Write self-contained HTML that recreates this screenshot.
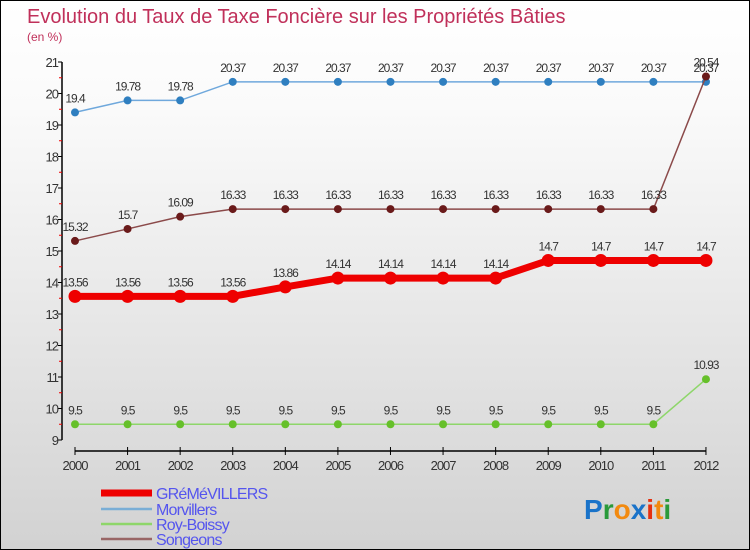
<!DOCTYPE html>
<html><head><meta charset="utf-8"><style>
body{margin:0}
#c{width:748px;height:548px;border:1px solid #000;position:relative;background:linear-gradient(#fff,#fafafa 20%,#d2d2d2);font-family:"Liberation Sans",sans-serif;overflow:hidden}
</style></head><body>
<div id="c">
<svg id="s" width="748" height="548" style="position:absolute;left:0;top:0">
<text x="26" y="22" font-size="20" fill="#c0305a">Evolution du Taux de Taxe Foncière sur les Propriétés Bâties</text>
<text x="26" y="40" font-size="12" fill="#c0305a">(en %)</text>
<g id="axes"></g><g id="series"></g><g id="legend"></g>
<text x="583" y="518" font-size="28" font-weight="bold"><tspan fill="#1a73c9">P</tspan><tspan fill="#2a9a3a">r</tspan><tspan fill="#f28a10">o</tspan><tspan fill="#1a73c9">x</tspan><tspan fill="#e53010">i</tspan><tspan fill="#f28a10">t</tspan><tspan fill="#2a9a3a">i</tspan></text>
</svg>
</div>
<script>
const years=[2000,2001,2002,2003,2004,2005,2006,2007,2008,2009,2010,2011,2012];
const yTicks=[9,10,11,12,13,14,15,16,17,18,19,20,21];
const seriesNames=["GRéMéVILLERS","Morvillers","Roy-Boissy","Songeons"];
const gremevillers=[13.56,13.56,13.56,13.56,13.86,14.14,14.14,14.14,14.14,14.7,14.7,14.7,14.7];
const morvillers=[19.4,19.78,19.78,20.37,20.37,20.37,20.37,20.37,20.37,20.37,20.37,20.37,20.37];
const royBoissy=[9.5,9.5,9.5,9.5,9.5,9.5,9.5,9.5,9.5,9.5,9.5,9.5,10.93];
const songeons=[15.32,15.7,16.09,16.33,16.33,16.33,16.33,16.33,16.33,16.33,16.33,16.33,20.54];
const NS="http://www.w3.org/2000/svg";
const X=i=>74+i*52.58, Y=v=>439-(v-9)*31.5;
function el(t,a,p){const e=document.createElementNS(NS,t);for(const k in a)e.setAttribute(k,a[k]);p.appendChild(e);return e;}
const ax=document.getElementById('axes');
let yl=el('line',{x1:61,y1:Y(21),x2:61,y2:Y(9),stroke:'#000','stroke-width':1.5},ax);


yTicks.forEach(t=>{
 el('line',{x1:57,x2:61,y1:Y(t),y2:Y(t),stroke:'#000'},ax);
 if(t<21)el('line',{x1:58,x2:61,y1:Y(t+0.5),y2:Y(t+0.5),stroke:'#e00'},ax);
 const tx=el('text',{x:57,y:Y(t)+5,'font-size':13,'text-anchor':'end',fill:'#333','letter-spacing':'-1'},ax);tx.textContent=t;
 
 
});
let xl=el('line',{x1:X(0),y1:450,x2:X(12),y2:450,stroke:'#000','stroke-width':1.5},ax);


years.forEach((y,i)=>{
 el('line',{x1:X(i),x2:X(i),y1:446,y2:454,stroke:'#000'},ax);
 const tx=el('text',{x:X(i),y:469,'font-size':13,'text-anchor':'middle',fill:'#333','letter-spacing':'-1'},ax);tx.textContent=y;
 
 
});
const sg=document.getElementById('series');
const defs=[[morvillers,'#6fa8dc','#2f7fc0',1.5,4,'morvillers'],[royBoissy,'#8ed66a','#66c02a',1.5,4,'roy-boissy'],[songeons,'#8b4a4a','#6a1a1a',1.5,4,'songeons'],[gremevillers,'#ee0000','#ee0000',7,6.5,'gremevillers']];
defs.forEach(([d,lc,pc,w,r,n])=>{
 const pl=el('polyline',{points:d.map((v,i)=>X(i)+','+Y(v)).join(' '),fill:'none',stroke:lc,'stroke-width':w},sg);
 
 
 d.forEach((v,i)=>{
  const c=el('circle',{cx:X(i),cy:Y(v),r:r,fill:pc},sg);
  
  
  const t=el('text',{x:X(i),y:Y(v)-10,'font-size':12,'text-anchor':'middle',fill:'#333','letter-spacing':'-1'},sg);t.textContent=v;
  
  
 });
});
const lg=document.getElementById('legend');
const lcol=['#ee0000','#7aaed6','#8ed66a','#966'],lw=[7,2.5,2.5,2.5],ly=[492,508,523,538];
seriesNames.forEach((n,i)=>{
 el('line',{x1:100,x2:151,y1:ly[i],y2:ly[i],stroke:lcol[i],'stroke-width':lw[i]},lg);
 const t=el('text',{x:155,y:ly[i]+6,'font-size':16,fill:'#5555ee','letter-spacing':'-0.8'},lg);t.textContent=n;
 
 
});
</script>
</body></html>
